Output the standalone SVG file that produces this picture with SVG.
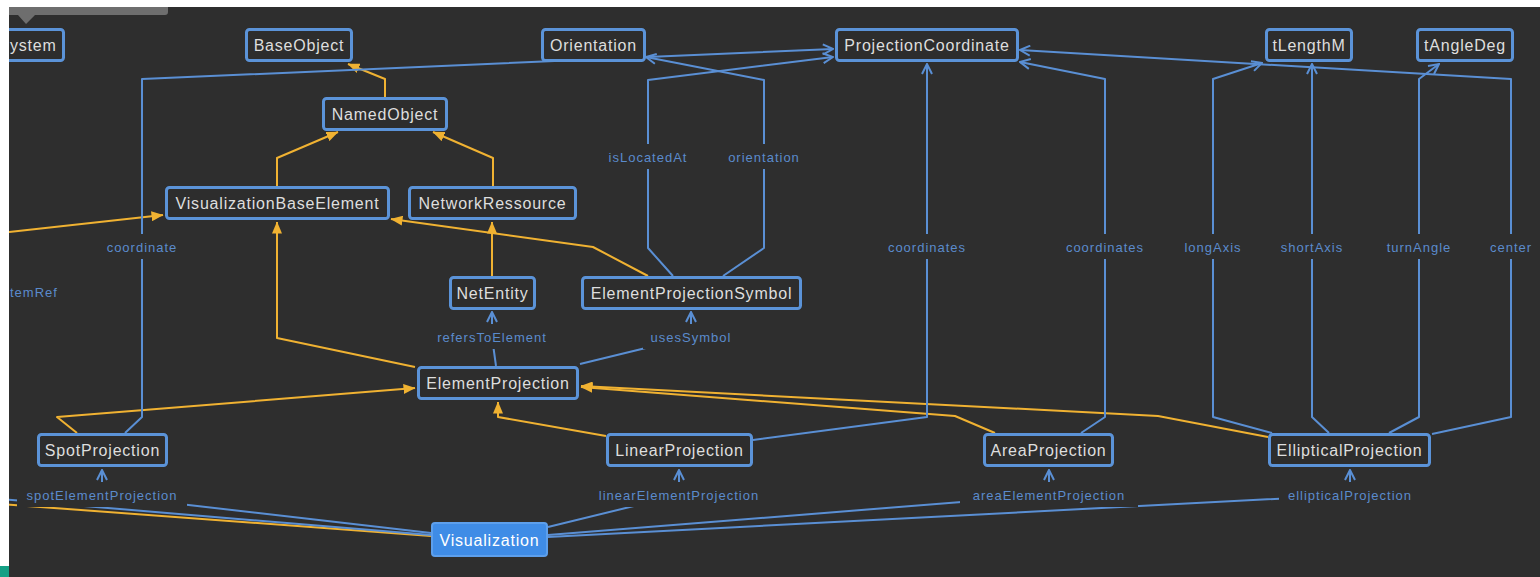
<svg xmlns="http://www.w3.org/2000/svg" width="1540" height="577" viewBox="0 0 1540 577">
  <defs>
    <marker id="tri" viewBox="0 0 12 10" refX="11.5" refY="5" markerWidth="12" markerHeight="10" markerUnits="userSpaceOnUse" orient="auto">
      <path d="M0,0 L12,5 L0,10 z" fill="#f0b232"/>
    </marker>
    <marker id="open" viewBox="0 0 12 12" refX="11" refY="6" markerWidth="12" markerHeight="12" markerUnits="userSpaceOnUse" orient="auto">
      <path d="M1,1 L11,6 L1,11" fill="none" stroke="#5a8fd4" stroke-width="2"/>
    </marker>
  </defs>
  <style>
    .gen { fill: none; stroke: #f0b232; stroke-width: 2; stroke-linejoin: round; }
    .gen.arr { marker-end: url(#tri); }
    .assoc { fill: none; stroke: #5a8fd4; stroke-width: 2; stroke-linejoin: round; }
    .assoc.arr { marker-end: url(#open); }
    .lblbg { fill: #2e2e2e; }
    .lbl { font-family: "Liberation Sans", Arial, sans-serif; font-size: 13px; letter-spacing: 1px; fill: #5b8bcc; text-anchor: middle; }
    .box { fill: #2d2d2d; stroke: #5b93d8; stroke-width: 3; }
    .name { font-family: "Liberation Sans", Arial, sans-serif; font-size: 16px; letter-spacing: 0.8px; fill: #dedede; text-anchor: middle; }
    .sel { fill: #3f8ce6; stroke: #5d9fec; stroke-width: 2; }
    .selname { font-family: "Liberation Sans", Arial, sans-serif; font-size: 16px; letter-spacing: 0.8px; fill: #ffffff; text-anchor: middle; }
  </style>

  <rect x="0" y="0" width="1540" height="577" fill="#2e2e2e"/>

  <!-- connectors -->
  <g id="connectors">
    <!-- generalizations -->
    <path class="gen arr" d="M385,97 L385,79 L348,64"/>
    <path class="gen arr" d="M277,186 L277,158 L338,132"/>
    <path class="gen arr" d="M493,186 L493,158 L433,132"/>
    <path class="gen arr" d="M492,276 L492,222"/>
    <path class="gen arr" d="M648,276 L593,247 L391,219"/>
    <path class="gen arr" d="M415,367 L277,338 L277,222"/>
    <path class="gen arr" d="M77,433 L57,417 L415,388"/>
    <path class="gen arr" d="M606,436 L498,417 L498,402"/>
    <path class="gen arr" d="M995,433 L955,416 L581,387"/>
    <path class="gen arr" d="M1268,437 L1158,416 L581,386"/>
    <path class="gen" d="M431,536 L0,504"/>
    <path class="gen arr" d="M0,233 L163,215"/>

    <!-- associations -->
    <path class="assoc arr" d="M125,433 L142,417 L142,79 L833,49"/>
    <path class="assoc arr" d="M673,276 L648,248 L648,80 L833,57"/>
    <path class="assoc arr" d="M723,276 L764,248 L764,80 L646,57"/>
    <path class="assoc arr" d="M753,440 L927,417 L927,64"/>
    <path class="assoc arr" d="M1081,433 L1105,417 L1105,79 L1020,62"/>
    <path class="assoc arr" d="M1272,433 L1213,417 L1213,79 L1262,63"/>
    <path class="assoc arr" d="M1329,433 L1312,417 L1312,64"/>
    <path class="assoc arr" d="M1389,433 L1419,417 L1419,79 L1439,64"/>
    <path class="assoc arr" d="M1432,434 L1511,417 L1511,79 L1020,50"/>
    <path class="assoc arr" d="M496,366 L492,337 L492,312"/>
    <path class="assoc arr" d="M580,364 L691,337 L691,312"/>
    <path class="assoc arr" d="M431,533 L102,495 L102,470"/>
    <path class="assoc" d="M431,535 L0,499"/>
    <path class="assoc arr" d="M548,527 L679,495 L679,470"/>
    <path class="assoc arr" d="M548,535 L1049,495 L1049,470"/>
    <path class="assoc arr" d="M548,537 L1350,495 L1350,470"/>

    <!-- role labels -->
    <rect class="lblbg" x="100" y="234" width="84" height="25"/>
    <text class="lbl" x="142" y="252">coordinate</text>
    <text class="lbl" x="10" y="297" style="text-anchor:start">temRef</text>
    <rect class="lblbg" x="600" y="144" width="96" height="25"/>
    <text class="lbl" x="648" y="162">isLocatedAt</text>
    <rect class="lblbg" x="720" y="144" width="88" height="25"/>
    <text class="lbl" x="764" y="162">orientation</text>
    <rect class="lblbg" x="882" y="234" width="90" height="25"/>
    <text class="lbl" x="927" y="252">coordinates</text>
    <rect class="lblbg" x="1060" y="234" width="90" height="25"/>
    <text class="lbl" x="1105" y="252">coordinates</text>
    <rect class="lblbg" x="1176" y="234" width="74" height="25"/>
    <text class="lbl" x="1213" y="252">longAxis</text>
    <rect class="lblbg" x="1274" y="234" width="76" height="25"/>
    <text class="lbl" x="1312" y="252">shortAxis</text>
    <rect class="lblbg" x="1381" y="234" width="76" height="25"/>
    <text class="lbl" x="1419" y="252">turnAngle</text>
    <rect class="lblbg" x="1484" y="234" width="54" height="25"/>
    <text class="lbl" x="1511" y="252">center</text>
    <rect class="lblbg" x="428" y="324" width="128" height="25"/>
    <text class="lbl" x="492" y="342">refersToElement</text>
    <rect class="lblbg" x="643" y="324" width="96" height="25"/>
    <text class="lbl" x="691" y="342">usesSymbol</text>
    <rect class="lblbg" x="17" y="482" width="170" height="25"/>
    <text class="lbl" x="102" y="500">spotElementProjection</text>
    <rect class="lblbg" x="578" y="482" width="202" height="25"/>
    <text class="lbl" x="679" y="500">linearElementProjection</text>
    <rect class="lblbg" x="960" y="482" width="178" height="25"/>
    <text class="lbl" x="1049" y="500">areaElementProjection</text>
    <rect class="lblbg" x="1279" y="482" width="142" height="25"/>
    <text class="lbl" x="1350" y="500">ellipticalProjection</text>
  </g>

  <!-- classes -->
  <g id="node-system">
    <rect class="box" x="-8.5" y="29.5" width="72" height="31" rx="3"/>
    <text class="name" x="10" y="51" style="text-anchor:start">ystem</text>
  </g>
  <g id="node-baseobject">
    <rect class="box" x="246.5" y="29.5" width="105" height="31" rx="3"/>
    <text class="name" x="299" y="51">BaseObject</text>
  </g>
  <g id="node-orientation">
    <rect class="box" x="542.5" y="29.5" width="102" height="31" rx="3"/>
    <text class="name" x="593.5" y="51">Orientation</text>
  </g>
  <g id="node-projectioncoordinate">
    <rect class="box" x="836.5" y="29.5" width="181" height="31" rx="3"/>
    <text class="name" x="927" y="51">ProjectionCoordinate</text>
  </g>
  <g id="node-tlengthm">
    <rect class="box" x="1266.5" y="29.5" width="85" height="31" rx="3"/>
    <text class="name" x="1309" y="51">tLengthM</text>
  </g>
  <g id="node-tangledeg">
    <rect class="box" x="1417.5" y="29.5" width="95" height="31" rx="3"/>
    <text class="name" x="1465" y="51">tAngleDeg</text>
  </g>
  <g id="node-namedobject">
    <rect class="box" x="323.5" y="98.5" width="123" height="31" rx="3"/>
    <text class="name" x="385" y="120">NamedObject</text>
  </g>
  <g id="node-visualizationbaseelement">
    <rect class="box" x="166.5" y="187.5" width="222" height="31" rx="3"/>
    <text class="name" x="277.5" y="209">VisualizationBaseElement</text>
  </g>
  <g id="node-networkressource">
    <rect class="box" x="409.5" y="187.5" width="166" height="31" rx="3"/>
    <text class="name" x="492.5" y="209">NetworkRessource</text>
  </g>
  <g id="node-netentity">
    <rect class="box" x="450.5" y="277.5" width="84" height="31" rx="3"/>
    <text class="name" x="492.5" y="299">NetEntity</text>
  </g>
  <g id="node-elementprojectionsymbol">
    <rect class="box" x="582.5" y="277.5" width="218" height="31" rx="3"/>
    <text class="name" x="691.5" y="299">ElementProjectionSymbol</text>
  </g>
  <g id="node-elementprojection">
    <rect class="box" x="418.5" y="367.5" width="159" height="31" rx="3"/>
    <text class="name" x="498" y="389">ElementProjection</text>
  </g>
  <g id="node-spotprojection">
    <rect class="box" x="38.5" y="434.5" width="128" height="31" rx="3"/>
    <text class="name" x="102.5" y="456">SpotProjection</text>
  </g>
  <g id="node-linearprojection">
    <rect class="box" x="607.5" y="434.5" width="144" height="31" rx="3"/>
    <text class="name" x="679.5" y="456">LinearProjection</text>
  </g>
  <g id="node-areaprojection">
    <rect class="box" x="984.5" y="434.5" width="128" height="31" rx="3"/>
    <text class="name" x="1048.5" y="456">AreaProjection</text>
  </g>
  <g id="node-ellipticalprojection">
    <rect class="box" x="1269.5" y="434.5" width="160" height="31" rx="3"/>
    <text class="name" x="1349.5" y="456">EllipticalProjection</text>
  </g>
  <g id="node-visualization">
    <rect class="sel" x="432" y="523" width="115" height="33" rx="3"/>
    <text class="selname" x="489.5" y="546">Visualization</text>
  </g>

  <!-- window frame around the canvas -->
  <rect x="0" y="0" width="1540" height="7" fill="#ffffff"/>
  <rect x="0" y="0" width="9" height="577" fill="#ffffff"/>
  <rect x="0" y="566" width="9" height="11" fill="#14a085"/>
  <path d="M9,7 L168,7 L168,12 Q168,15 165,15 L35,15 L26,24 L18,15 L9,15 z" fill="#6e6e6e"/>
</svg>
